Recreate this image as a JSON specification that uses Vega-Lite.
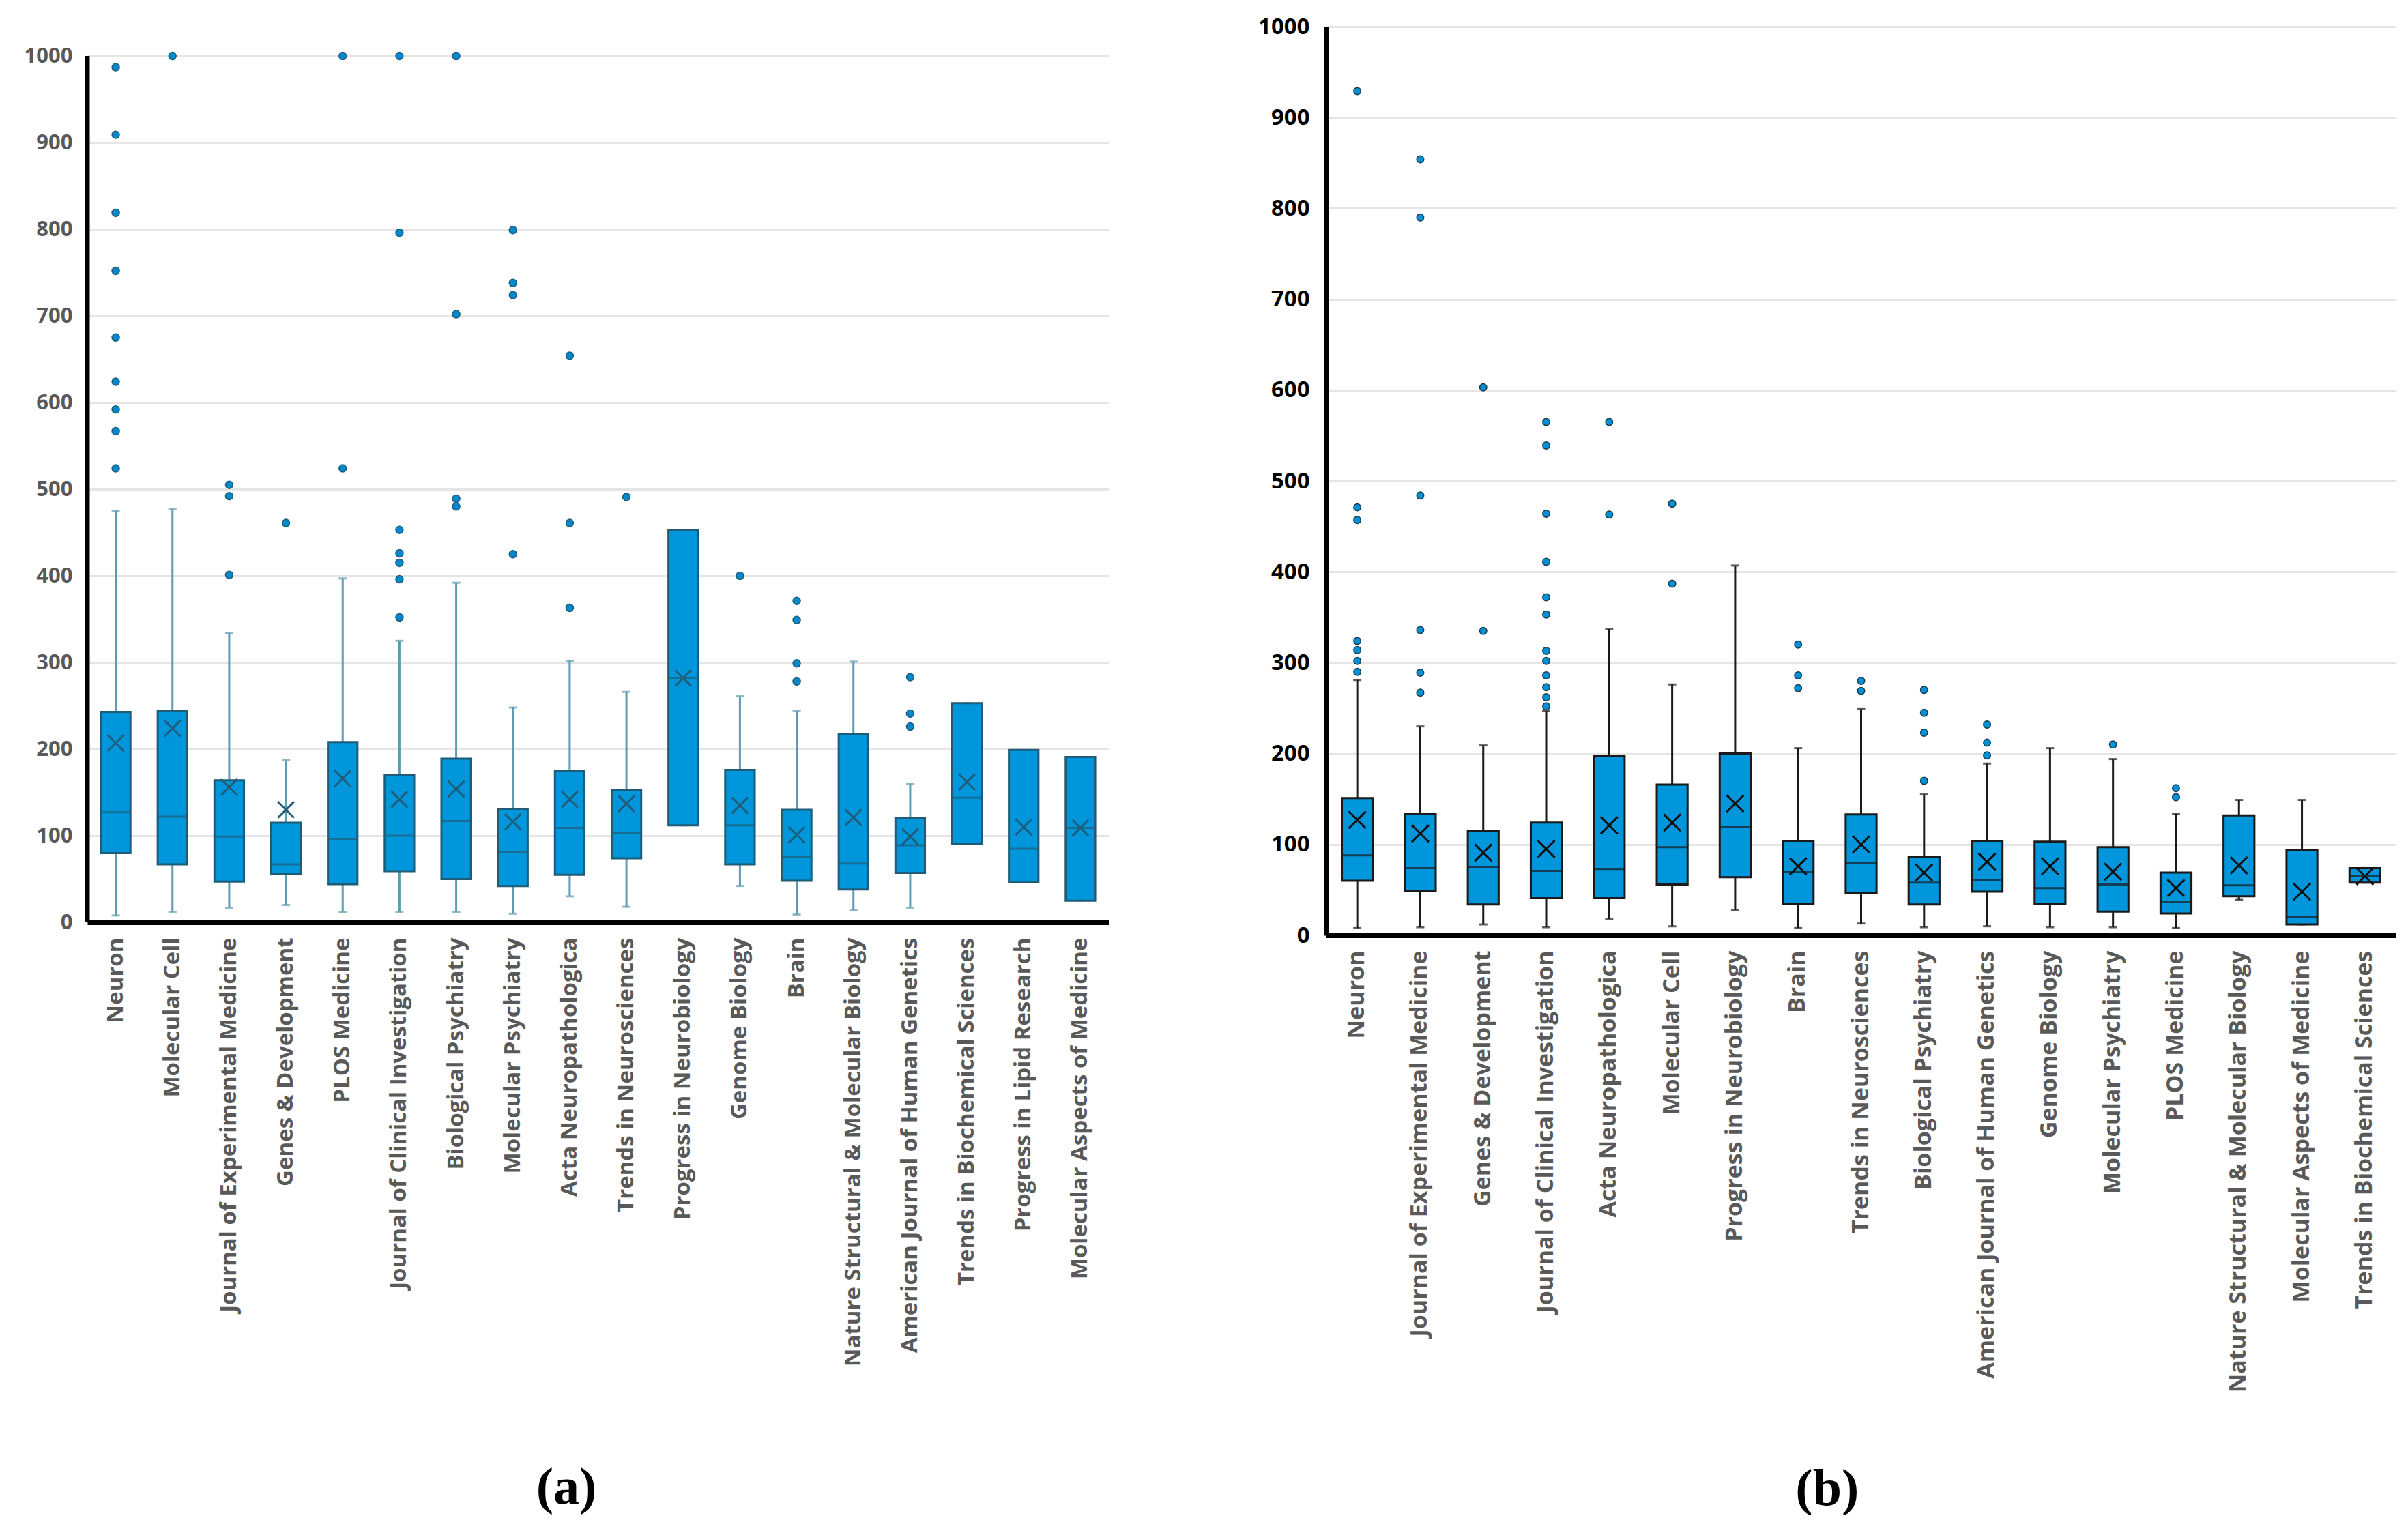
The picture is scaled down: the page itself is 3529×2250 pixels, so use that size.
{
  "$schema": "https://vega.github.io/schema/vega-lite/v6.json",
  "background": "white",
  "padding": {"left": 35, "top": 23, "right": 0, "bottom": 0},
  "spacing": 218,
  "config": {"view": {"stroke": null}},
  "datasets": {
    "a": [
      {"j": "Neuron", "lo": 8, "q1": 80, "med": 127, "q3": 243, "hi": 475, "mean": 207},
      {"j": "Molecular Cell", "lo": 12, "q1": 67, "med": 122, "q3": 244, "hi": 477, "mean": 224},
      {"j": "Journal of Experimental Medicine", "lo": 17, "q1": 47, "med": 99, "q3": 164, "hi": 334, "mean": 156},
      {"j": "Genes & Development", "lo": 20, "q1": 56, "med": 67, "q3": 115, "hi": 187, "mean": 130},
      {"j": "PLOS Medicine", "lo": 12, "q1": 44, "med": 96, "q3": 208, "hi": 397, "mean": 166},
      {"j": "Journal of Clinical Investigation", "lo": 12, "q1": 59, "med": 100, "q3": 170, "hi": 325, "mean": 142},
      {"j": "Biological Psychiatry", "lo": 12, "q1": 50, "med": 117, "q3": 189, "hi": 392, "mean": 154},
      {"j": "Molecular Psychiatry", "lo": 10, "q1": 42, "med": 81, "q3": 131, "hi": 248, "mean": 116},
      {"j": "Acta Neuropathologica", "lo": 30, "q1": 55, "med": 109, "q3": 175, "hi": 302, "mean": 142},
      {"j": "Trends in Neurosciences", "lo": 18, "q1": 74, "med": 103, "q3": 153, "hi": 266, "mean": 137},
      {"j": "Progress in Neurobiology", "lo": 112, "q1": 112, "med": 282, "q3": 453, "hi": 453, "mean": 282},
      {"j": "Genome Biology", "lo": 42, "q1": 67, "med": 112, "q3": 176, "hi": 261, "mean": 135},
      {"j": "Brain", "lo": 9, "q1": 48, "med": 76, "q3": 130, "hi": 244, "mean": 101},
      {"j": "Nature Structural & Molecular Biology", "lo": 14, "q1": 38, "med": 68, "q3": 217, "hi": 301, "mean": 121},
      {"j": "American Journal of Human Genetics", "lo": 17, "q1": 57, "med": 89, "q3": 120, "hi": 160, "mean": 99},
      {"j": "Trends in Biochemical Sciences", "lo": 91, "q1": 91, "med": 144, "q3": 253, "hi": 253, "mean": 162},
      {"j": "Progress in Lipid Research", "lo": 46, "q1": 46, "med": 85, "q3": 199, "hi": 199, "mean": 110},
      {"j": "Molecular Aspects of Medicine", "lo": 25, "q1": 25, "med": 109, "q3": 191, "hi": 191, "mean": 109}
    ],
    "a_out": [
      {"j": "Neuron", "v": 987}, {"j": "Neuron", "v": 909}, {"j": "Neuron", "v": 819}, {"j": "Neuron", "v": 752},
      {"j": "Neuron", "v": 675}, {"j": "Neuron", "v": 624}, {"j": "Neuron", "v": 592}, {"j": "Neuron", "v": 567}, {"j": "Neuron", "v": 524},
      {"j": "Molecular Cell", "v": 1000},
      {"j": "Journal of Experimental Medicine", "v": 505}, {"j": "Journal of Experimental Medicine", "v": 492}, {"j": "Journal of Experimental Medicine", "v": 401},
      {"j": "Genes & Development", "v": 461},
      {"j": "PLOS Medicine", "v": 1000}, {"j": "PLOS Medicine", "v": 524},
      {"j": "Journal of Clinical Investigation", "v": 1000}, {"j": "Journal of Clinical Investigation", "v": 796},
      {"j": "Journal of Clinical Investigation", "v": 453}, {"j": "Journal of Clinical Investigation", "v": 426},
      {"j": "Journal of Clinical Investigation", "v": 415}, {"j": "Journal of Clinical Investigation", "v": 396},
      {"j": "Journal of Clinical Investigation", "v": 352},
      {"j": "Biological Psychiatry", "v": 1000}, {"j": "Biological Psychiatry", "v": 702},
      {"j": "Biological Psychiatry", "v": 489}, {"j": "Biological Psychiatry", "v": 480},
      {"j": "Molecular Psychiatry", "v": 799}, {"j": "Molecular Psychiatry", "v": 738}, {"j": "Molecular Psychiatry", "v": 724}, {"j": "Molecular Psychiatry", "v": 425},
      {"j": "Acta Neuropathologica", "v": 654}, {"j": "Acta Neuropathologica", "v": 461}, {"j": "Acta Neuropathologica", "v": 363},
      {"j": "Trends in Neurosciences", "v": 491},
      {"j": "Genome Biology", "v": 400},
      {"j": "Brain", "v": 371}, {"j": "Brain", "v": 349}, {"j": "Brain", "v": 299}, {"j": "Brain", "v": 278},
      {"j": "American Journal of Human Genetics", "v": 283}, {"j": "American Journal of Human Genetics", "v": 241}, {"j": "American Journal of Human Genetics", "v": 226}
    ],
    "b": [
      {"j": "Neuron", "lo": 8, "q1": 60, "med": 88, "q3": 151, "hi": 281, "mean": 127},
      {"j": "Journal of Experimental Medicine", "lo": 9, "q1": 49, "med": 74, "q3": 134, "hi": 230, "mean": 112},
      {"j": "Genes & Development", "lo": 12, "q1": 34, "med": 75, "q3": 115, "hi": 209, "mean": 91},
      {"j": "Journal of Clinical Investigation", "lo": 9, "q1": 41, "med": 71, "q3": 124, "hi": 247, "mean": 95},
      {"j": "Acta Neuropathologica", "lo": 18, "q1": 41, "med": 73, "q3": 197, "hi": 337, "mean": 121},
      {"j": "Molecular Cell", "lo": 10, "q1": 56, "med": 97, "q3": 166, "hi": 276, "mean": 124},
      {"j": "Progress in Neurobiology", "lo": 28, "q1": 64, "med": 119, "q3": 200, "hi": 407, "mean": 145},
      {"j": "Brain", "lo": 8, "q1": 35, "med": 70, "q3": 104, "hi": 206, "mean": 76},
      {"j": "Trends in Neurosciences", "lo": 13, "q1": 47, "med": 80, "q3": 133, "hi": 249, "mean": 100},
      {"j": "Biological Psychiatry", "lo": 9, "q1": 34, "med": 58, "q3": 86, "hi": 155, "mean": 69},
      {"j": "American Journal of Human Genetics", "lo": 10, "q1": 48, "med": 61, "q3": 104, "hi": 189, "mean": 81},
      {"j": "Genome Biology", "lo": 9, "q1": 35, "med": 52, "q3": 103, "hi": 206, "mean": 76},
      {"j": "Molecular Psychiatry", "lo": 9, "q1": 26, "med": 56, "q3": 97, "hi": 194, "mean": 70},
      {"j": "PLOS Medicine", "lo": 8, "q1": 24, "med": 37, "q3": 69, "hi": 134, "mean": 52},
      {"j": "Nature Structural & Molecular Biology", "lo": 39, "q1": 43, "med": 55, "q3": 132, "hi": 149, "mean": 77},
      {"j": "Molecular Aspects of Medicine", "lo": 12, "q1": 12, "med": 20, "q3": 94, "hi": 149, "mean": 48},
      {"j": "Trends in Biochemical Sciences", "lo": 58, "q1": 58, "med": 65, "q3": 74, "hi": 74, "mean": 65}
    ],
    "b_out": [
      {"j": "Neuron", "v": 929}, {"j": "Neuron", "v": 471}, {"j": "Neuron", "v": 457},
      {"j": "Neuron", "v": 324}, {"j": "Neuron", "v": 314}, {"j": "Neuron", "v": 302}, {"j": "Neuron", "v": 290},
      {"j": "Journal of Experimental Medicine", "v": 854}, {"j": "Journal of Experimental Medicine", "v": 790}, {"j": "Journal of Experimental Medicine", "v": 484},
      {"j": "Journal of Experimental Medicine", "v": 336}, {"j": "Journal of Experimental Medicine", "v": 289}, {"j": "Journal of Experimental Medicine", "v": 267},
      {"j": "Genes & Development", "v": 603}, {"j": "Genes & Development", "v": 335},
      {"j": "Journal of Clinical Investigation", "v": 565}, {"j": "Journal of Clinical Investigation", "v": 539}, {"j": "Journal of Clinical Investigation", "v": 464},
      {"j": "Journal of Clinical Investigation", "v": 411}, {"j": "Journal of Clinical Investigation", "v": 372}, {"j": "Journal of Clinical Investigation", "v": 353},
      {"j": "Journal of Clinical Investigation", "v": 313}, {"j": "Journal of Clinical Investigation", "v": 302}, {"j": "Journal of Clinical Investigation", "v": 286},
      {"j": "Journal of Clinical Investigation", "v": 273}, {"j": "Journal of Clinical Investigation", "v": 262}, {"j": "Journal of Clinical Investigation", "v": 252},
      {"j": "Acta Neuropathologica", "v": 565}, {"j": "Acta Neuropathologica", "v": 463},
      {"j": "Molecular Cell", "v": 475}, {"j": "Molecular Cell", "v": 387},
      {"j": "Brain", "v": 320}, {"j": "Brain", "v": 286}, {"j": "Brain", "v": 272},
      {"j": "Trends in Neurosciences", "v": 280}, {"j": "Trends in Neurosciences", "v": 269},
      {"j": "Biological Psychiatry", "v": 270}, {"j": "Biological Psychiatry", "v": 245}, {"j": "Biological Psychiatry", "v": 223}, {"j": "Biological Psychiatry", "v": 170},
      {"j": "American Journal of Human Genetics", "v": 232}, {"j": "American Journal of Human Genetics", "v": 212}, {"j": "American Journal of Human Genetics", "v": 198},
      {"j": "Molecular Psychiatry", "v": 210},
      {"j": "PLOS Medicine", "v": 162}, {"j": "PLOS Medicine", "v": 152}
    ]
  },
  "hconcat": [
    {
      "width": 1497,
      "height": 1313,
      "title": {"text": "(a)", "orient": "bottom", "frame": "bounds", "anchor": "middle", "offset": 141, "font": "Liberation Serif", "fontSize": 76, "fontWeight": "bold", "color": "#000000"},
      "encoding": {
        "x": {
          "field": "j", "type": "nominal", "title": null,
          "scale": {"domain": ["Neuron", "Molecular Cell", "Journal of Experimental Medicine", "Genes & Development", "PLOS Medicine", "Journal of Clinical Investigation", "Biological Psychiatry", "Molecular Psychiatry", "Acta Neuropathologica", "Trends in Neurosciences", "Progress in Neurobiology", "Genome Biology", "Brain", "Nature Structural & Molecular Biology", "American Journal of Human Genetics", "Trends in Biochemical Sciences", "Progress in Lipid Research", "Molecular Aspects of Medicine"], "paddingInner": 0, "paddingOuter": 0},
          "axis": {"domainColor": "#000000", "domainWidth": 7, "ticks": false, "grid": false, "labelAngle": -90, "labelAlign": "right", "labelBaseline": "middle", "labelFont": "Open Sans", "labelFontSize": 33, "labelFontWeight": "bold", "labelColor": "#595959", "labelPadding": 22, "labelLimit": 2000}
        }
      },
      "layer": [
        {
          "data": {"values": [{"j": "Neuron"}]},
          "mark": {"type": "rule", "color": "#000000", "strokeWidth": 7},
          "encoding": {
            "x": {"field": "j", "type": "nominal", "bandPosition": 0},
            "y": {"datum": 0, "type": "quantitative"},
            "y2": {"datum": 1000}
          }
        },
        {
          "data": {"name": "a"},
          "mark": {"type": "rule", "color": "#5E9BB3", "strokeWidth": 3},
          "encoding": {
            "y": {"field": "lo", "type": "quantitative", "title": null, "scale": {"domain": [0, 1033.9], "nice": false},
              "axis": {"values": [0, 100, 200, 300, 400, 500, 600, 700, 800, 900, 1000], "format": "d", "grid": true, "gridColor": "#E5E5E5", "gridWidth": 3, "domain": false, "ticks": false, "labelFont": "Open Sans", "labelFontSize": 31, "labelFontWeight": "bold", "labelColor": "#595959", "labelPadding": 22}},
            "y2": {"field": "hi"}
          }
        },
        {
          "data": {"name": "a"},
          "mark": {"type": "tick", "color": "#5E9BB3", "size": 12, "thickness": 3},
          "encoding": {"y": {"field": "lo", "type": "quantitative"}}
        },
        {
          "data": {"name": "a"},
          "mark": {"type": "tick", "color": "#5E9BB3", "size": 12, "thickness": 3},
          "encoding": {"y": {"field": "hi", "type": "quantitative"}}
        },
        {
          "data": {"name": "a"},
          "mark": {"type": "bar", "fill": "#0096DB", "stroke": "#1F5C78", "strokeWidth": 3, "width": {"band": 0.52}},
          "encoding": {"y": {"field": "q1", "type": "quantitative"}, "y2": {"field": "q3"}}
        },
        {
          "data": {"name": "a"},
          "mark": {"type": "tick", "color": "#1F5C78", "size": 43, "thickness": 3},
          "encoding": {"y": {"field": "med", "type": "quantitative"}}
        },
        {
          "data": {"name": "a"},
          "mark": {"type": "point", "shape": "M-1,-1L1,1M-1,1L1,-1", "size": 560, "filled": false, "stroke": "#1F5C78", "strokeWidth": 3, "opacity": 1},
          "encoding": {"y": {"field": "mean", "type": "quantitative"}}
        },
        {
          "data": {"name": "a_out"},
          "mark": {"type": "point", "shape": "circle", "filled": true, "size": 120, "fill": "#0088CC", "stroke": "#1F5C78", "strokeWidth": 1.5, "opacity": 1},
          "encoding": {"y": {"field": "v", "type": "quantitative"}}
        }
      ]
    },
    {
      "width": 1569,
      "height": 1332,
      "title": {"text": "(b)", "orient": "bottom", "frame": "bounds", "anchor": "middle", "offset": 105, "font": "Liberation Serif", "fontSize": 76, "fontWeight": "bold", "color": "#000000"},
      "encoding": {
        "x": {
          "field": "j", "type": "nominal", "title": null,
          "scale": {"domain": ["Neuron", "Journal of Experimental Medicine", "Genes & Development", "Journal of Clinical Investigation", "Acta Neuropathologica", "Molecular Cell", "Progress in Neurobiology", "Brain", "Trends in Neurosciences", "Biological Psychiatry", "American Journal of Human Genetics", "Genome Biology", "Molecular Psychiatry", "PLOS Medicine", "Nature Structural & Molecular Biology", "Molecular Aspects of Medicine", "Trends in Biochemical Sciences"], "paddingInner": 0, "paddingOuter": 0},
          "axis": {"domainColor": "#000000", "domainWidth": 7, "ticks": false, "grid": false, "labelAngle": -90, "labelAlign": "right", "labelBaseline": "middle", "labelFont": "Open Sans", "labelFontSize": 34, "labelFontWeight": "bold", "labelColor": "#595959", "labelPadding": 22, "labelLimit": 2000}
        }
      },
      "layer": [
        {
          "data": {"name": "b"},
          "mark": {"type": "rule", "color": "#1A1A1A", "strokeWidth": 3},
          "encoding": {
            "y": {"field": "lo", "type": "quantitative", "title": null, "scale": {"domain": [0, 1000], "nice": false},
              "axis": {"values": [0, 100, 200, 300, 400, 500, 600, 700, 800, 900, 1000], "format": "d", "grid": true, "gridColor": "#E5E5E5", "gridWidth": 3, "domainColor": "#000000", "domainWidth": 7, "ticks": false, "labelFont": "Open Sans", "labelFontSize": 33, "labelFontWeight": "bold", "labelColor": "#000000", "labelPadding": 24}},
            "y2": {"field": "hi"}
          }
        },
        {
          "data": {"name": "b"},
          "mark": {"type": "tick", "color": "#1A1A1A", "size": 12, "thickness": 3},
          "encoding": {"y": {"field": "lo", "type": "quantitative"}}
        },
        {
          "data": {"name": "b"},
          "mark": {"type": "tick", "color": "#1A1A1A", "size": 12, "thickness": 3},
          "encoding": {"y": {"field": "hi", "type": "quantitative"}}
        },
        {
          "data": {"name": "b"},
          "mark": {"type": "bar", "fill": "#0096DB", "stroke": "#1A1A1A", "strokeWidth": 3, "width": {"band": 0.49}},
          "encoding": {"y": {"field": "q1", "type": "quantitative"}, "y2": {"field": "q3"}}
        },
        {
          "data": {"name": "b"},
          "mark": {"type": "tick", "color": "#1A1A1A", "size": 45, "thickness": 3},
          "encoding": {"y": {"field": "med", "type": "quantitative"}}
        },
        {
          "data": {"name": "b"},
          "mark": {"type": "point", "shape": "M-1,-1L1,1M-1,1L1,-1", "size": 620, "filled": false, "stroke": "#111111", "strokeWidth": 3, "opacity": 1},
          "encoding": {"y": {"field": "mean", "type": "quantitative"}}
        },
        {
          "data": {"name": "b_out"},
          "mark": {"type": "point", "shape": "circle", "filled": true, "size": 110, "fill": "#0090D6", "stroke": "#1A3A4A", "strokeWidth": 1.5, "opacity": 1},
          "encoding": {"y": {"field": "v", "type": "quantitative"}}
        }
      ]
    }
  ]
}
